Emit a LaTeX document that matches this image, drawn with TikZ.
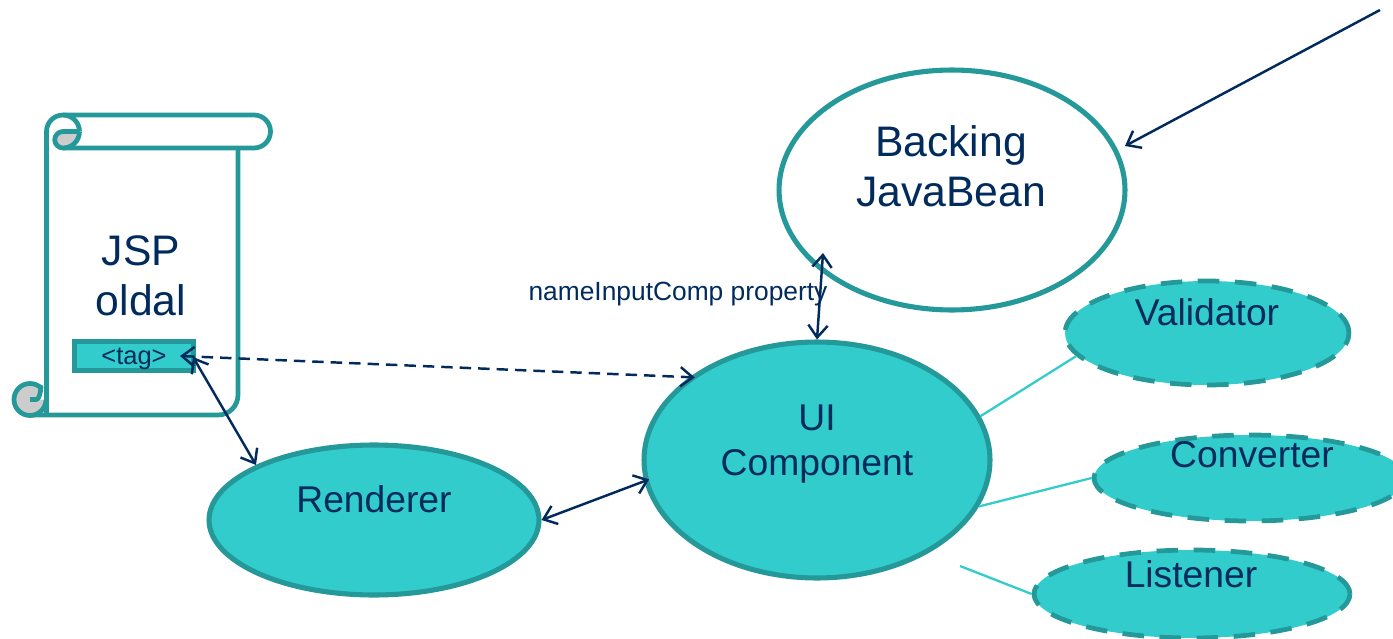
\documentclass[tikz,border=0pt]{standalone}
\usepackage{fontspec}
\setmainfont{Liberation Sans}
\usetikzlibrary{arrows.meta,calc,shapes.geometric,positioning}
\definecolor{tealline}{HTML}{259999}
\definecolor{tealfill}{HTML}{33CCCC}
\definecolor{navy}{HTML}{002B5C}
\definecolor{curlgray}{HTML}{CCCCCC}
\tikzset{
    bubble/.style = {ellipse, draw=tealline, fill=tealfill, line width=2.9pt, inner sep=0pt},
    dashbubble/.style = {bubble, line width=2.7pt, dash pattern=on 12.3pt off 8.8pt},
    bigtext/.style = {text=navy, align=center, font=\fontsize{24.3}{28.5}\selectfont},
    midtext/.style = {text=navy, align=center, font=\fontsize{21.2}{25.6}\selectfont},
    scrolline/.style = {draw=tealline, line width=2.7pt, line join=round},
    link/.style = {draw=navy, line width=1.4pt, {Straight Barb[length=7pt,width=11pt]}-{Straight Barb[length=7pt,width=11pt]}},
    onelink/.style = {draw=navy, line width=1.4pt, -{Straight Barb[length=7pt,width=11pt]}},
    extra/.style = {draw=tealfill, line width=1.3pt}
}
\begin{document}
\begin{tikzpicture}[x=0.02cm,y=-0.02cm]
    \useasboundingbox (0,0) rectangle (1393,639);
    \path[scrolline,fill=white] (63,115) -- (254,115) arc[start angle=-90,end angle=90,radius=16.5] -- (63,148);
    \path[scrolline] (238,148) -- (238,395) arc[start angle=0,end angle=90,radius=20] -- (30,415);
    \path[scrolline,fill=curlgray] (30,399.5) circle[radius=16];
    \fill[white] (46,384) -- (41,384) -- (41,388) to[out=90,in=-45] (38,399.5) -- (46,399.5) -- cycle;
    \path[scrolline] (30,399.5) -- (36,399.5) to[out=0,in=90] (41,388);
    \path[scrolline] (46.5,415) -- (46.5,131.5) arc[start angle=180,end angle=270,radius=16.5];
    \path[scrolline,fill=curlgray] (79.5,131.5) -- (63,131.5) arc[start angle=-90,end angle=-270,radius=8.25] arc[start angle=90,end angle=0,radius=16.5];
    \path[scrolline] (63,115) arc[start angle=-90,end angle=0,radius=16.5];
    \node[bigtext] (jsptext) at (141,276) {JSP\\oldal};
    \node[draw=tealline,fill=tealfill,line width=2.7pt,minimum width=2.38cm,minimum height=0.58cm,inner sep=0pt,text depth=0pt,text=navy,font=\fontsize{14.5}{17}\selectfont] (tag) at (134,356) {<tag>};
    \node[bubble,fill=white,minimum width=6.92cm,minimum height=4.8cm] (bean) at (952,190) {};
    \node[bigtext] (beantext) at (951,166) {Backing\\JavaBean};
    \node[bubble,minimum width=6.92cm,minimum height=4.72cm] (ui) at (817,460) {};
    \node[midtext] (uitext) at (817,444) {UI\\Component};
    \node[bubble,minimum width=6.6cm,minimum height=3cm] (renderer) at (374,520) {};
    \node[midtext] (renderertext) at (374,499) {Renderer};
    \node[dashbubble,minimum width=5.68cm,minimum height=2.08cm] (validator) at (1207,333) {};
    \node[midtext] (validatortext) at (1207,312) {Validator};
    \node[dashbubble,minimum width=6.24cm,minimum height=1.72cm] (converter) at (1250,478) {};
    \node[midtext] (convertertext) at (1252,455) {Converter};
    \node[dashbubble,minimum width=6.32cm,minimum height=1.76cm] (listener) at (1192,594) {};
    \node[midtext] (listenertext) at (1191,574) {Listener};
    \node[text=navy,font=\fontsize{15}{18}\selectfont] (proptext) at (678,294) {nameInputComp property};
    \coordinate (beantip) at (823,253);
    \coordinate (beanright) at (1125,146);
    \coordinate (farend) at (1380,10);
    \coordinate (tagtip) at (180,356);
    \coordinate (tagcorner) at (193,357);
    \coordinate (listenerfree) at (960,566);
    \draw[extra] (ui.15) -- (validator.190);
    \draw[extra] (ui.-16) -- (converter.west);
    \draw[extra] (listenerfree) -- (listener.west);
    \draw[link] (beantip) -- (ui.north);
    \draw[onelink] (farend) -- (beanright);
    \draw[link,shorten >=-3pt,dash pattern=on 6.5pt off 4pt] (tagtip) -- (ui.147);
    \draw[link] (tagcorner) -- (renderer.155);
    \draw[link,shorten >=-3pt] (renderer.east) -- (ui.187);
\end{tikzpicture}
\end{document}
